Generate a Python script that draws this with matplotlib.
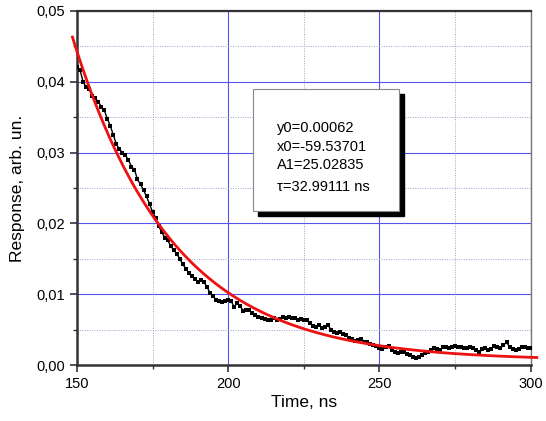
import matplotlib
matplotlib.use("Agg")
import matplotlib.pyplot as plt
import numpy as np
from matplotlib.ticker import MultipleLocator, FuncFormatter
from matplotlib.patches import Rectangle

plt.rcParams['font.family'] = ['Liberation Sans', 'DejaVu Sans']

# measured data (time in ns, response in arb. units)
time_ns = list(range(150, 301))
response = [
    0.0421, 0.0417, 0.0400, 0.0393, 0.0390, 0.0380, 0.0377, 0.0372, 0.0365, 0.0360,
    0.0348, 0.0338, 0.0325, 0.0312, 0.0305, 0.0300, 0.0296, 0.0290, 0.0280, 0.0276,
    0.0262, 0.0255, 0.0247, 0.0238, 0.0227, 0.0216, 0.0208, 0.0196, 0.0188, 0.0180,
    0.0176, 0.0168, 0.0162, 0.0157, 0.0150, 0.0142, 0.0136, 0.0130, 0.0125, 0.0122,
    0.0117, 0.0120, 0.0117, 0.0110, 0.0102, 0.0097, 0.0092, 0.0090, 0.0089, 0.0091,
    0.0092, 0.0090, 0.0082, 0.0088, 0.0083, 0.0076, 0.0078, 0.0077, 0.0073, 0.0070,
    0.0068, 0.0066, 0.0065, 0.0064, 0.0063, 0.0066, 0.0064, 0.0065, 0.0068, 0.0066,
    0.0068, 0.0066, 0.0067, 0.0064, 0.0065, 0.0064, 0.0063, 0.0059, 0.0055, 0.0054,
    0.0056, 0.0052, 0.0053, 0.0056, 0.0050, 0.0047, 0.0045, 0.0046, 0.0044, 0.0042,
    0.0038, 0.0037, 0.0034, 0.0036, 0.0037, 0.0033, 0.0032, 0.0030, 0.0028, 0.0027,
    0.0024, 0.0022, 0.0025, 0.0027, 0.0021, 0.0018, 0.0017, 0.0018, 0.0019, 0.0016,
    0.0014, 0.0011, 0.0010, 0.0011, 0.0014, 0.0017, 0.0018, 0.0021, 0.0024, 0.0022,
    0.0021, 0.0025, 0.0025, 0.0024, 0.0026, 0.0027, 0.0025, 0.0025, 0.0024, 0.0024,
    0.0026, 0.0024, 0.0021, 0.0018, 0.0022, 0.0024, 0.0021, 0.0023, 0.0027, 0.0025,
    0.0024, 0.0028, 0.0032, 0.0026, 0.0023, 0.0021, 0.0023, 0.0025, 0.0026, 0.0024,
    0.0024,
]

# exponential decay fit parameters (as printed on the chart)
fit_y0 = 0.00062
fit_x0 = -59.53701
fit_A1 = 25.02835
fit_tau = 32.99111

x_ticks = [150, 200, 250, 300]
y_ticks = [0.00, 0.01, 0.02, 0.03, 0.04, 0.05]

fig = plt.figure(figsize=(5.46, 4.21), dpi=100)
ax = fig.add_axes([0.141, 0.133, 0.831, 0.841])

major_c = '#5555ee'
minor_c = '#a0a0d0'
ax.set_axisbelow(True)
ax.grid(True, which='major', color=major_c, linewidth=0.8, linestyle='-')
ax.grid(True, which='minor', color=minor_c, linewidth=0.7, linestyle=(0, (1, 1.5)))

ax.plot(time_ns, response, color='black', linewidth=1.0, marker='s',
        markersize=2.8, markeredgewidth=0, zorder=3)

xf = np.linspace(148.5, 302, 400)
yf = fit_y0 + fit_A1 * np.exp(-(xf - fit_x0) / fit_tau)
ax.plot(xf, yf, color='#ee1111', linewidth=2.0, zorder=4, clip_on=False)

ax.set_xlim(150, 300)
ax.set_ylim(0, 0.05)
ax.set_xticks(x_ticks)
ax.set_yticks(y_ticks)
ax.xaxis.set_minor_locator(MultipleLocator(25))
ax.yaxis.set_minor_locator(MultipleLocator(0.005))
ax.yaxis.set_major_formatter(FuncFormatter(lambda v, p: f"{v:.2f}".replace('.', ',')))
ax.tick_params(axis='both', which='major', direction='out', length=5, width=1.2,
               labelsize=10.5, color='#333333', top=False, right=False)
ax.tick_params(axis='both', which='minor', direction='out', length=3, width=1.0,
               color='#333333', top=False, right=False)

for side in ['left', 'bottom']:
    ax.spines[side].set_linewidth(1.8)
    ax.spines[side].set_color('#333333')
ax.spines['top'].set_linewidth(1.6)
ax.spines['top'].set_color('#333333')
ax.spines['right'].set_linewidth(1.0)
ax.spines['right'].set_color('#777777')

ax.set_xlabel('Time, ns', fontsize=12.5, labelpad=3)
ax.set_ylabel('Response, arb. un.', fontsize=12.5, labelpad=8)

# fit parameter box with shadow
bx0, by0, bw, bh = 0.3877, 0.435, 0.3213, 0.3447
shadow = Rectangle((bx0 + 0.012, by0 - 0.015), bw, bh, transform=ax.transAxes,
                   facecolor='black', edgecolor='black', zorder=5)
box = Rectangle((bx0, by0), bw, bh, transform=ax.transAxes,
                facecolor='white', edgecolor='#888888', linewidth=0.8, zorder=6)
ax.add_patch(shadow)
ax.add_patch(box)
lines = [f"y0={fit_y0:.5f}", f"x0={fit_x0:.5f}", f"A1={fit_A1:.5f}",
         f"\u03c4={fit_tau:.5f} ns"]
ys = [0.6695, 0.616, 0.565, 0.503]
for t, yy in zip(lines, ys):
    ax.text(0.4405, yy, t, transform=ax.transAxes, fontsize=10.5,
            va='center', ha='left', zorder=7)

fig.savefig('out.png', dpi=100)
